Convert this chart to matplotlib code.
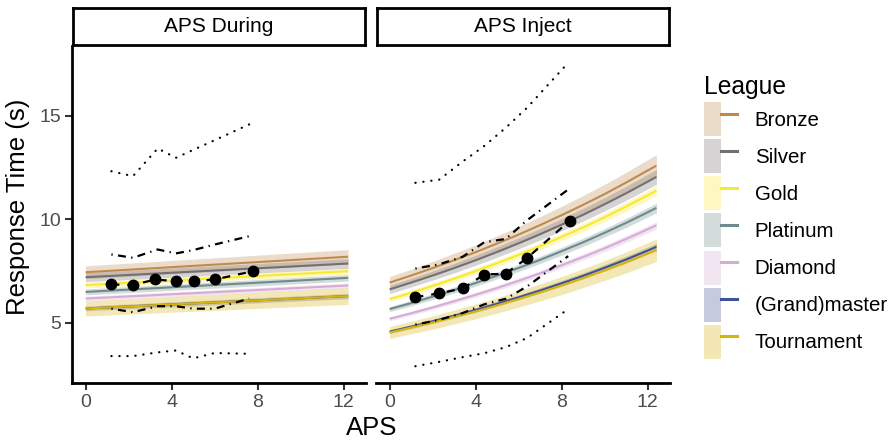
import numpy as np
import matplotlib.pyplot as plt
from matplotlib.patches import Patch
from matplotlib.lines import Line2D
from matplotlib.legend_handler import HandlerTuple

plt.rcParams['font.family'] = ['Liberation Sans', 'DejaVu Sans']

# leagues, colours
leagues = ['Bronze', 'Silver', 'Gold', 'Platinum', 'Diamond', '(Grand)master', 'Tournament']
line_colors = ['#c08a4f', '#757070', '#f8e931', '#6e8a8a', '#d6acd6', '#3f5296', '#d8b30a']
band_rel = [0.042, 0.03, 0.02, 0.022, 0.018, 0.02, 0.064]  # ribbon half-width, fraction of fit

# APS During: model fit (straight), one row per league
during_fit_x = [0, 12.2]
during_fit = [
    [7.45, 8.20],
    [7.21, 7.87],
    [6.83, 7.50],
    [6.50, 7.18],
    [6.18, 6.81],
    [5.70, 6.30],
    [5.70, 6.30],
]
# APS Inject: model fit (log link), one row per league
inject_fit_x = [0, 1, 2, 3, 4, 5, 6, 7, 8, 9, 10, 11, 12, 12.4]
inject_fit = [
    [6.95, 7.29, 7.65, 8.03, 8.42, 8.84, 9.27, 9.73, 10.21, 10.71, 11.23, 11.79, 12.37, 12.60],
    [6.62, 6.95, 7.29, 7.65, 8.03, 8.43, 8.85, 9.29, 9.75, 10.23, 10.74, 11.27, 11.83, 12.06],
    [6.15, 6.46, 6.79, 7.14, 7.51, 7.89, 8.29, 8.71, 9.16, 9.62, 10.11, 10.63, 11.17, 11.40],
    [5.67, 5.96, 6.27, 6.59, 6.93, 7.29, 7.66, 8.05, 8.47, 8.90, 9.36, 9.84, 10.35, 10.56],
    [5.20, 5.47, 5.75, 6.05, 6.36, 6.69, 7.04, 7.40, 7.79, 8.19, 8.61, 9.06, 9.53, 9.72],
    [4.58, 4.82, 5.08, 5.35, 5.63, 5.93, 6.24, 6.57, 6.92, 7.28, 7.67, 8.07, 8.50, 8.68],
    [4.54, 4.78, 5.02, 5.29, 5.56, 5.85, 6.16, 6.48, 6.81, 7.17, 7.54, 7.93, 8.35, 8.52],
]

# binned observed means
during_mean_x = [1.2, 2.21, 3.22, 4.19, 5.02, 6.0, 7.78]
during_mean = [6.86, 6.83, 7.10, 7.02, 7.02, 7.10, 7.50]
inject_mean_x = [1.2, 2.3, 3.4, 4.4, 5.39, 6.37, 8.38]
inject_mean = [6.25, 6.43, 6.67, 7.34, 7.38, 8.12, 9.95]

# binned quantiles
during_q_x = [1.2, 2.2, 3.35, 4.2, 5.0, 6.0, 7.6]
during_q95 = [12.33, 12.09, 13.43, 12.98, 13.36, 13.83, 14.59]
during_q75 = [8.31, 8.15, 8.55, 8.36, 8.52, 8.79, 9.19]
during_q25 = [5.69, 5.52, 5.81, 5.81, 5.69, 5.69, 6.18]
during_q05 = [3.40, 3.40, 3.58, 3.67, 3.29, 3.55, 3.51]
inject_q_x = [1.2, 2.3, 3.4, 4.4, 5.4, 6.4, 8.3]
inject_q95 = [11.77, 11.92, 12.80, 13.55, 14.43, 15.41, 17.57]
inject_q75 = [7.63, 7.83, 8.20, 8.90, 9.06, 9.97, 11.45]
inject_q25 = [4.92, 5.15, 5.48, 5.90, 6.17, 6.77, 8.23]
inject_q05 = [2.91, 3.12, 3.35, 3.54, 3.83, 4.28, 5.67]

panels = [
    ('APS During', during_fit_x, during_fit, during_mean_x, during_mean,
     during_q_x, during_q95, during_q75, during_q25, during_q05),
    ('APS Inject', inject_fit_x, inject_fit, inject_mean_x, inject_mean,
     inject_q_x, inject_q95, inject_q75, inject_q25, inject_q05),
]

W, H = 892, 441
fig = plt.figure(figsize=(W / 100, H / 100), dpi=100)


def box(x0, y0, x1, y1):
    # pixel box (top-left origin) -> figure rect
    return [x0 / W, 1 - y1 / H, (x1 - x0) / W, (y1 - y0) / H]


panel_px = [(72, 366), (376, 670)]
tick_col = '#4d4d4d'

for i, (title, fx, fits, mx, my, qx, q95, q75, q25, q05) in enumerate(panels):
    x0, x1 = panel_px[i]
    ax = fig.add_axes(box(x0, 46, x1, 383))
    fx = np.array(fx)
    for fit, c, r in zip(fits, line_colors, band_rel):
        fit = np.array(fit)
        ax.fill_between(fx, fit * (1 - r), fit * (1 + r), color=c, alpha=0.3, lw=0)
    for fit, c in zip(fits, line_colors):
        ax.plot(fx, fit, color=c, lw=1.5, solid_capstyle='butt')

    ax.plot(qx, q95, color='black', lw=1.6, dashes=(0.1, 3.5), dash_capstyle='round')
    ax.plot(qx, q05, color='black', lw=1.6, dashes=(0.1, 3.5), dash_capstyle='round')
    ax.plot(qx, q75, color='black', lw=1.6, dashes=(0.6, 2.4, 3.6, 2.4))
    ax.plot(qx, q25, color='black', lw=1.6, dashes=(0.6, 2.4, 3.6, 2.4))
    ax.plot(mx, my, color='black', lw=1.6, dashes=(3.6, 3.6),
            marker='o', ms=7.5)

    ax.set_xlim(-0.63, 13.03)
    ax.set_ylim(2.1, 18.38)
    ax.set_xticks([0, 4, 8, 12])
    ax.set_yticks([5, 10, 15])
    for s in ['top', 'right']:
        ax.spines[s].set_visible(False)
    ax.spines['bottom'].set_linewidth(2)
    ax.spines['left'].set_linewidth(2)
    ax.tick_params(axis='both', length=5, width=1.5, color='#333333',
                   labelsize=14, labelcolor=tick_col, pad=3)
    if i == 1:
        ax.spines['left'].set_visible(False)
        ax.tick_params(axis='y', left=False, labelleft=False)

    # facet strip
    sx = fig.add_axes(box(x0 + 1, 8, x1 - 1, 45))
    sx.set_xticks([])
    sx.set_yticks([])
    for s in sx.spines.values():
        s.set_linewidth(2)
    sx.text(0.5, 0.5, title, ha='center', va='center', fontsize=15,
            transform=sx.transAxes)

fig.text(18 / W, 1 - 207 / H, 'Response Time (s)', rotation=90,
         ha='center', va='center', fontsize=18.5)
fig.text(372 / W, 1 - 428 / H, 'APS', ha='center', va='center', fontsize=18.5)

handles = [(Patch(facecolor=c, alpha=0.3, lw=0), Line2D([], [], color=c, lw=2.2))
           for c in line_colors]
fig.legend(handles, leagues, handler_map={tuple: HandlerTuple(ndivide=None)},
           loc='upper left', bbox_to_anchor=(704 / W, 1 - 75 / H),
           frameon=False, title='League', title_fontsize=17.7, fontsize=14.8,
           handlelength=1.62, handleheight=2.17, handletextpad=0.85,
           labelspacing=0.15, borderpad=0, borderaxespad=0, alignment='left')

fig.savefig('out.png', dpi=100)
